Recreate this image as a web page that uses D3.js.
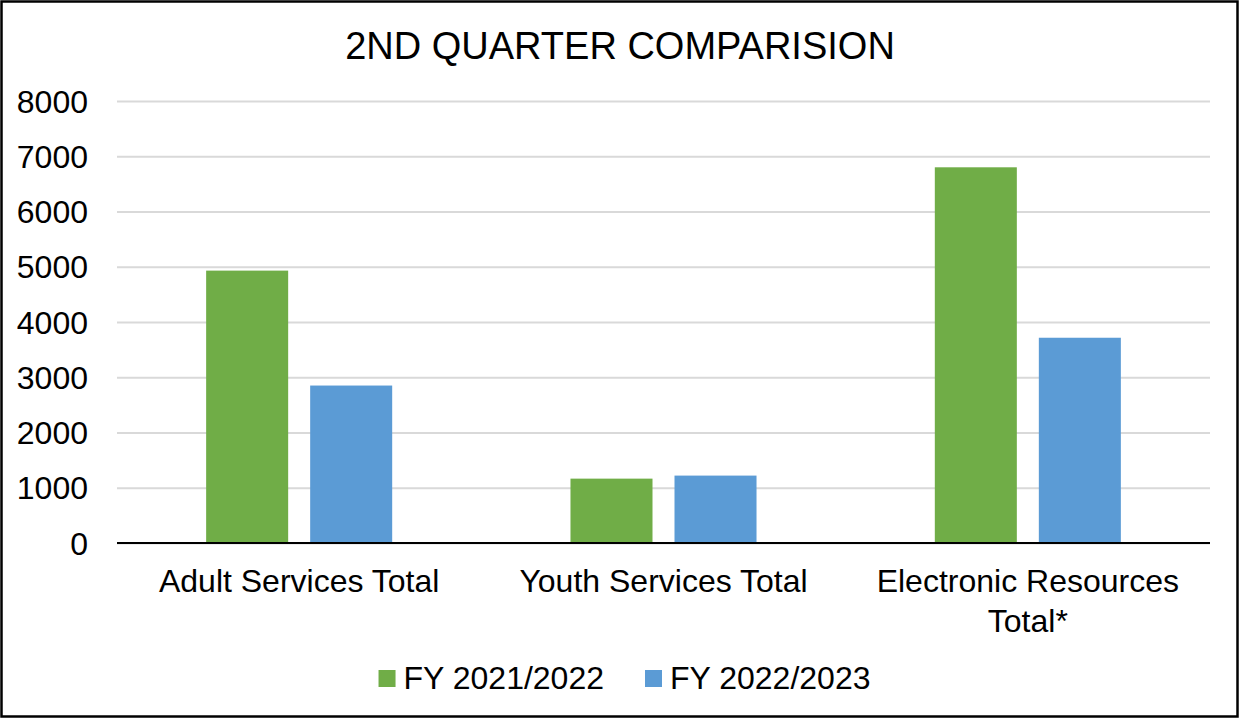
<!DOCTYPE html>
<html lang="en">
<head>
<meta charset="utf-8">
<title>2nd Quarter Comparision</title>
<script src="https://d3js.org/d3.v7.min.js"></script>
<style>
body { margin: 0; background: #fff; }
text { font-family: "Liberation Sans", Arial, sans-serif; fill: #000; }
</style>
</head>
<body>
<div id="my_dataviz"></div>
<script>

// data
var categories = ["Adult Services Total", "Youth Services Total", "Electronic Resources Total*"]
var seriesNames = ["FY 2021/2022", "FY 2022/2023"]
var fy2122 = [4930, 1165, 6800]
var fy2223 = [2850, 1220, 3715]
var yTicks = [0, 1000, 2000, 3000, 4000, 5000, 6000, 7000, 8000]
var colors = ["#70AD47", "#5B9BD5"]

var W = 1244, H = 719
var margin = {top: 101, right: 34, bottom: 176, left: 117},
  width = 1210 - margin.left,
  height = 543 - margin.top

var root = d3.select("#my_dataviz")
  .append("svg")
  .attr("width", W)
  .attr("height", H)

// chart border
root.append("rect")
  .attr("x", 1.5).attr("y", 1.5)
  .attr("width", 1236).attr("height", 715)
  .style("fill", "#fff")
  .style("stroke", "#000")
  .style("stroke-width", 2.5)

// title
root.append("text")
  .attr("x", 620)
  .attr("y", 58.5)
  .attr("text-anchor", "middle")
  .style("font-size", "38px")
  .text("2ND QUARTER COMPARISION")

var svg = root.append("g")
  .attr("transform", "translate(" + margin.left + "," + margin.top + ")")

// scales
var y = d3.scaleLinear().domain([0, 8000]).range([height, 0])
var x0 = d3.scaleBand().domain(categories).range([0, width]).padding(0)
var x1 = d3.scaleBand().domain(seriesNames).range([0, x0.bandwidth()])
  .paddingInner(0.2115).paddingOuter(0.857)
var color = d3.scaleOrdinal().domain(seriesNames).range(colors)

// gridlines
svg.append("g")
  .call(d3.axisLeft(y).tickValues(yTicks).tickSize(-width).tickFormat(""))
  .call(function(g) { g.select(".domain").remove() })
  .selectAll("line")
  .style("stroke", "#D9D9D9")
  .style("stroke-width", 1.8)

// y labels
svg.append("g")
  .call(d3.axisLeft(y).tickValues(yTicks).tickSize(0).tickPadding(29).tickFormat(d3.format("d")))
  .call(function(g) { g.select(".domain").remove() })
  .selectAll("text")
  .style("font-size", "32px")
  .style("font-family", "'Liberation Sans', Arial, sans-serif")
  .attr("dy", "0.35em")

// bars
var rows = categories.map(function(c, i) {
  return {cat: c, values: [{key: seriesNames[0], v: fy2122[i]}, {key: seriesNames[1], v: fy2223[i]}]}
})

svg.selectAll("myGroups")
  .data(rows)
  .enter()
  .append("g")
    .attr("transform", function(d) { return "translate(" + x0(d.cat) + ",0)" })
  .selectAll("rect")
  .data(function(d) { return d.values })
  .enter()
  .append("rect")
    .attr("x", function(d) { return x1(d.key) })
    .attr("y", function(d) { return y(d.v) })
    .attr("width", x1.bandwidth())
    .attr("height", function(d) { return height - y(d.v) })
    .style("fill", function(d) { return color(d.key) })

// x axis line
svg.append("line")
  .attr("x1", 0).attr("x2", width)
  .attr("y1", height).attr("y2", height)
  .style("stroke", "#000")
  .style("stroke-width", 1.8)

// category labels, wrapped to the band
var labels = svg.selectAll("myLabels")
  .data(categories)
  .enter()
  .append("text")
    .attr("text-anchor", "middle")
    .style("font-size", "32px")
    .attr("transform", function(d) { return "translate(" + (x0(d) + x0.bandwidth() / 2) + "," + (height + 49) + ")" })

labels.each(function(d) {
  var t = d3.select(this), words = d.split(" "), line = [], lineNo = 0
  var tspan = t.append("tspan").attr("x", 0).attr("y", 0)
  words.forEach(function(w) {
    line.push(w)
    tspan.text(line.join(" "))
    if (tspan.node().getComputedTextLength() > 330 && line.length > 1) {
      line.pop()
      tspan.text(line.join(" "))
      line = [w]
      lineNo++
      tspan = t.append("tspan").attr("x", 0).attr("y", lineNo * 40).text(w)
    }
  })
})

// legend
var legend = root.append("g")
var lx = 0
seriesNames.forEach(function(s, i) {
  var item = legend.append("g").attr("transform", "translate(" + lx + ",0)")
  item.append("rect")
    .attr("x", 0).attr("y", 670)
    .attr("width", 17).attr("height", 17)
    .style("fill", color(s))
  var txt = item.append("text")
    .attr("x", 25).attr("y", 689)
    .style("font-size", "32px")
    .text(s)
  lx += 25 + txt.node().getComputedTextLength() + 41
})
var legendW = lx - 41
legend.attr("transform", "translate(" + (624.5 - legendW / 2) + ",0)")

</script>
</body>
</html>
